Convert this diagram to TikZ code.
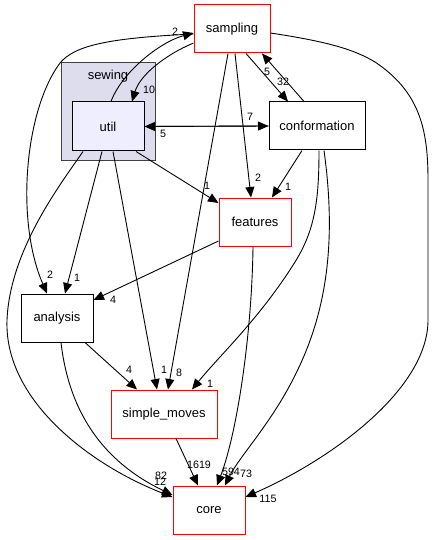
\documentclass[tikz,border=0pt]{standalone}
\usepackage{fontspec}
\setmainfont{Liberation Sans}
\usetikzlibrary{arrows.meta}
\definecolor{clusterfill}{HTML}{DDDDEE}
\definecolor{clusterline}{HTML}{404040}
\definecolor{utilfill}{HTML}{EEEEFF}
\begin{document}
\begin{tikzpicture}[x=1pt,y=-1pt,
  dirbox/.style={draw=black, fill=white, line width=1pt, inner sep=0pt,
    font=\fontsize{13}{15}\selectfont},
  redbox/.style={dirbox, draw=red},
  edge/.style={line width=0.9pt, -{Triangle[length=10.5pt,width=9pt]}},
  elabel/.style={font=\fontsize{10.7}{12}\selectfont, inner sep=0pt}]
\useasboundingbox (0,0) rectangle (435,540);
% cluster
\node[draw=clusterline, fill=clusterfill, line width=1pt, minimum width=94, minimum height=98] (sewing) at (108,112) {};
\node[font=\fontsize{13}{15}\selectfont, inner sep=0pt] (sewinglabel) at (108,76) {sewing};
% nodes
\node[dirbox, fill=utilfill, minimum width=72, minimum height=49] (util) at (108,126.5) {util};
\node[redbox, minimum width=76, minimum height=48] (sampling) at (232,29) {sampling};
\node[dirbox, minimum width=96, minimum height=48] (conformation) at (317,126) {conformation};
\node[redbox, minimum width=72, minimum height=48] (features) at (255,222) {features};
\node[dirbox, minimum width=72, minimum height=48] (analysis) at (57,318) {analysis};
\node[redbox, minimum width=106, minimum height=48] (simplemoves) at (164,414) {simple\_moves};
\node[redbox, minimum width=72, minimum height=48] (core) at (209,510) {core};
% edges
\draw[edge] ([xshift=3pt]util.north) .. controls (122,72) and (160,42) .. ([yshift=-4pt]sampling.west);
\draw[edge] ([yshift=-14pt]sampling.west) .. controls (165,55) and (140,75) .. ([xshift=24pt]util.north);
\draw[edge] ([yshift=-5pt]sampling.west) .. controls (110,38) and (75,45) .. (60,63) .. controls (25,110) and (15,220) .. ([xshift=-10pt]analysis.north);
\draw[edge] ([yshift=-4pt]sampling.east) .. controls (330,42) and (355,50) .. (375,62) .. controls (420,92) and (428,130) .. (428,180) -- (428,320) .. controls (428,390) and (330,460) .. ([yshift=13pt]core.east);
\draw[edge] ([xshift=14pt]sampling.south) -- ([xshift=-29pt]conformation.north);
\draw[edge] ([xshift=-13pt]conformation.north) -- ([xshift=30pt]sampling.south);
\draw[edge] ([xshift=3pt]sampling.south) -- ([xshift=-4pt]features.north);
\draw[edge] ([xshift=-4pt]sampling.south) -- ([xshift=4pt]simplemoves.north);
\draw[edge] (util.east) -- (conformation.west);
\draw[edge] (conformation.west) -- (util.east);
\draw[edge] ([xshift=28pt]util.south) -- ([yshift=19pt]features.west);
\draw[edge] ([xshift=-15pt]conformation.south) -- ([xshift=17pt]features.north);
\draw[edge] ([xshift=-6pt]util.south) -- ([xshift=8pt]analysis.north);
\draw[edge] ([xshift=5pt]util.south) -- ([xshift=-7pt]simplemoves.north);
\draw[edge] ([xshift=-25pt]util.south) .. controls (60,185) and (10,250) .. (7,320) .. controls (4,400) and (90,465) .. ([yshift=13pt]core.west);
\draw[edge] ([yshift=-19pt]features.west) -- ([yshift=18pt]analysis.east);
\draw[edge] ([xshift=2pt]conformation.south) .. controls (319,200) and (315,230) .. (295,262) .. controls (260,318) and (220,355) .. ([xshift=28pt]simplemoves.north);
\draw[edge] ([xshift=7pt]conformation.south) .. controls (335,230) and (330,300) .. (300,365) .. controls (275,420) and (240,455) .. ([xshift=16pt]core.north);
\draw[edge] ([xshift=-2pt]features.south) .. controls (252,330) and (238,430) .. ([xshift=8pt]core.north);
\draw[edge] ([xshift=28pt]analysis.south) -- ([xshift=-27pt]simplemoves.north);
\draw[edge] ([xshift=4pt]analysis.south) .. controls (70,420) and (110,465) .. ([yshift=15pt]core.west);
\draw[edge] ([xshift=12pt]simplemoves.south) -- ([xshift=-11pt]core.north);
% labels
\node[elabel] (l1) at (175,32) {2};
\node[elabel] (l2) at (149,90) {10};
\node[elabel] (l3) at (50,275) {2};
\node[elabel] (l4) at (268,499) {115};
\node[elabel] (l5) at (283,82) {32};
\node[elabel] (l6) at (267,72) {5};
\node[elabel] (l7) at (258,178) {2};
\node[elabel] (l8) at (179,373) {8};
\node[elabel] (l9) at (250,117) {7};
\node[elabel] (l10) at (163,134) {5};
\node[elabel] (l11) at (207,186) {1};
\node[elabel] (l12) at (288,187) {1};
\node[elabel] (l13) at (77,278) {1};
\node[elabel] (l14) at (164,370) {1};
\node[elabel] (l15) at (160,482) {12};
\node[elabel] (l16) at (113,300) {4};
\node[elabel] (l17) at (210,384) {1};
\node[elabel] (l18) at (246,474) {73};
\node[elabel] (l19) at (231,472) {594};
\node[elabel] (l20) at (129,370) {4};
\node[elabel] (l21) at (161,476) {82};
\node[elabel] (l22) at (199,465) {1619};
\end{tikzpicture}
\end{document}
